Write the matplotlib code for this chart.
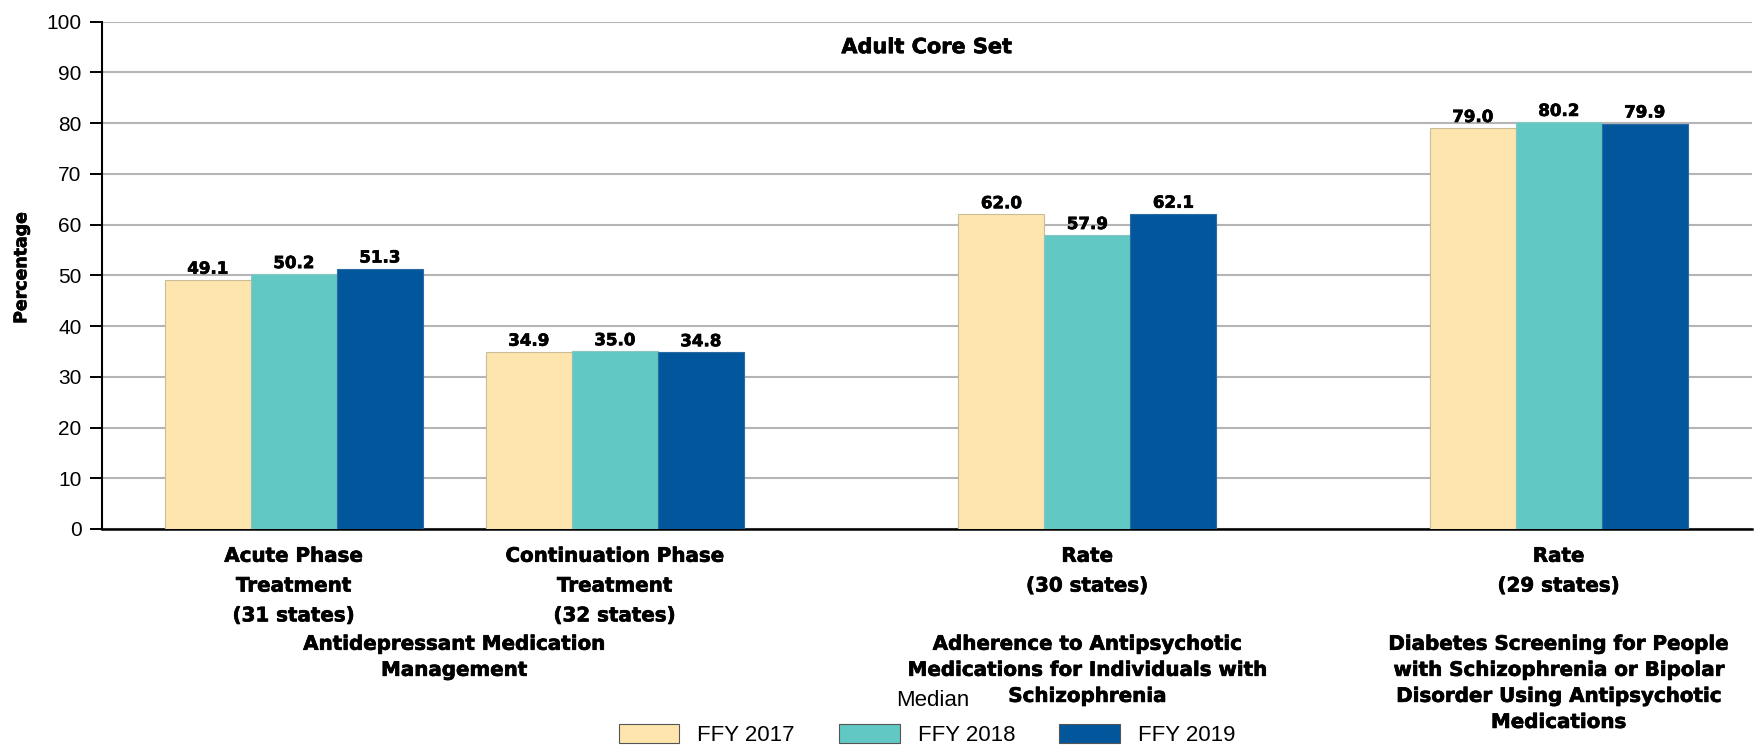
import matplotlib
matplotlib.use("Agg")
import matplotlib.pyplot as plt
import matplotlib.patheffects as pe
from matplotlib.patches import Patch

# Data
years = ["FFY 2017", "FFY 2018", "FFY 2019"]
measures = ["Acute Phase\nTreatment\n(31 states)",
            "Continuation Phase\nTreatment\n(32 states)",
            "Rate\n(30 states)",
            "Rate\n(29 states)"]
ffy2017 = [49.1, 34.9, 62.0, 79.0]
ffy2018 = [50.2, 35.0, 57.9, 80.2]
ffy2019 = [51.3, 34.8, 62.1, 79.9]
groups = ["Antidepressant Medication\nManagement",
          "Adherence to Antipsychotic\nMedications for Individuals with\nSchizophrenia",
          "Diabetes Screening for People\nwith Schizophrenia or Bipolar\nDisorder Using Antipsychotic\nMedications"]
group_members = [[0, 1], [2], [3]]
yticks = list(range(0, 101, 10))

# layout / style
colors = ["#FDE5AD", "#62C8C4", "#02579C"]
edges = ["#C8BD98", "#8CC4C2", "#2A6AA5"]
x_pos = [0.0, 3.733, 9.228, 14.71]
bar_w = 1.0
bold = "DejaVu Sans"
heavy = [pe.withStroke(linewidth=0.5, foreground="black")]

plt.rcParams["font.family"] = ["Liberation Sans", "DejaVu Sans"]

fig = plt.figure(figsize=(17.58, 7.46), dpi=100)
ax = fig.add_axes([0.0579, 0.2909, 0.9387, 0.68])

series = [ffy2017, ffy2018, ffy2019]
for i, vals in enumerate(series):
    xs = [p + (i - 1) * bar_w for p in x_pos]
    bars = ax.bar(xs, vals, width=bar_w, color=colors[i], edgecolor=edges[i],
                  linewidth=0.8, zorder=3)
    for b, v in zip(bars, vals):
        ax.annotate(f"{v:.1f}", (b.get_x() + b.get_width() / 2, v),
                    xytext=(0, 4.5), textcoords="offset points",
                    ha="center", va="baseline", fontsize=12,
                    fontweight="bold", family=bold, zorder=4,
                    path_effects=heavy)

ax.set_xlim(-2.233, 16.957)
ax.set_ylim(0, 100)
ax.set_yticks(yticks)
ax.yaxis.grid(True, color="#b5b5b5", linewidth=1.5, zorder=0)
ax.set_axisbelow(True)
ax.set_xticks([])
ax.tick_params(axis="y", length=8.5, width=1.4, pad=6, labelsize=15)
for s in ["top", "right"]:
    ax.spines[s].set_visible(False)
ax.spines["left"].set_linewidth(1.5)
ax.spines["bottom"].set_linewidth(1.8)

# title inside plot
ax.text(0.5, 93.8, "Adult Core Set", transform=ax.get_yaxis_transform(),
        ha="center", va="baseline", fontsize=15, fontweight="bold", family=bold,
        path_effects=heavy)

fig.text(0.0121, 0.641, "Percentage", rotation=90, ha="center", va="center",
         fontsize=12.5, fontweight="bold", family=bold, path_effects=heavy)

# category labels under bars
tr = ax.get_xaxis_transform()
for p, lab in zip(x_pos, measures):
    ax.text(p, -0.035, lab, transform=tr, ha="center", va="top",
            fontsize=14.3, fontweight="bold", family=bold, linespacing=1.72,
            path_effects=heavy)

# group labels
for members, lab in zip(group_members, groups):
    gx = sum(x_pos[m] for m in members) / len(members)
    ax.text(gx, -0.2085, lab, transform=tr, ha="center", va="top",
            fontsize=14.3, fontweight="bold", family=bold, linespacing=1.47,
            path_effects=heavy)

fig.text(0.510, 1 - 706 / 746, "Median", ha="left", va="baseline", fontsize=16)

handles = [Patch(facecolor=c, edgecolor="#555555", linewidth=0.8) for c in colors]
fig.legend(handles, years, loc="center", bbox_to_anchor=(0.5273, 0.0147),
           ncol=3, frameon=False, fontsize=16, handlelength=2.73,
           handleheight=0.9, handletextpad=0.8, columnspacing=2.0,
           borderpad=0, borderaxespad=0)

fig.savefig("out.png", dpi=100)
